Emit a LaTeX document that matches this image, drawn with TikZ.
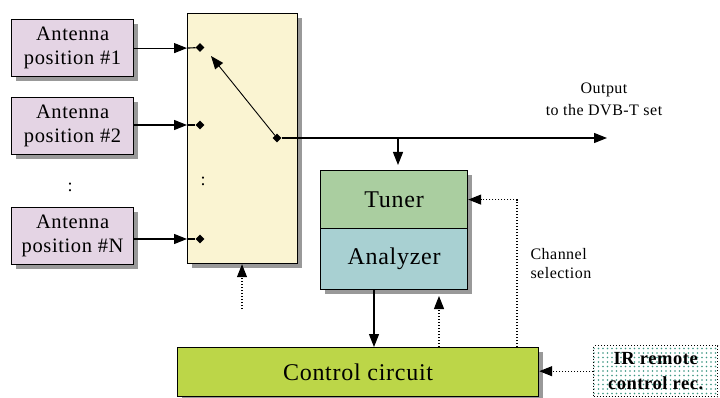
\documentclass[tikz,border=0pt]{standalone}
\usepackage{fontspec}
\setmainfont{Liberation Serif}[LetterSpace=3]
\usetikzlibrary{arrows.meta,shadows,patterns.meta,shapes.geometric}
\definecolor{antfill}{RGB}{228,212,228}
\definecolor{swfill}{RGB}{250,244,210}
\definecolor{tunfill}{RGB}{170,206,160}
\definecolor{anfill}{RGB}{168,208,210}
\definecolor{ctrlfill}{RGB}{188,214,72}
\definecolor{irdot}{RGB}{60,150,130}
\begin{document}
\begin{tikzpicture}[x=1pt,y=-1pt,
  tip/.style={-{Triangle[length=13pt,width=10pt]}},
  dots/.style={line width=1.1pt,dash pattern=on 1.2pt off 1.8pt},
  shad/.style={drop shadow={shadow xshift=4pt,shadow yshift=-4pt,fill=black!40,opacity=1}},
  box/.style={draw=black,line width=1.2pt,shad,inner sep=0pt,anchor=north west},
  ant/.style={box,fill=antfill,minimum width=122pt,minimum height=57pt,align=center,font=\fontsize{20.5}{24}\selectfont},
  pin/.style={diamond,fill=black,inner sep=0pt,minimum size=9pt},
  lbl/.style={font=\fontsize{24}{28}\selectfont},
  ln/.style={line width=1.1pt}
]
\useasboundingbox (0,0) rectangle (720,398);
% switch box
\node[box,fill=swfill,minimum width=110pt,minimum height=250pt] (sw) at (187,13) {};
% antenna boxes
\node[ant] (a1) at (11,19) {Antenna\\position \#1};
\node[ant] (a2) at (11,97) {Antenna\\position \#2};
\node[ant] (aN) at (11,207) {Antenna\\position \#N};
\node[font=\fontsize{18}{18}\selectfont] (vd1) at (70,187) {:};
\node[font=\fontsize{18}{18}\selectfont] (vd2) at (203,181) {:};
% switch contacts
\node[pin] (d1) at (200,47.5) {};
\node[pin] (d2) at (200,125) {};
\node[pin] (dN) at (200,239) {};
\node[pin] (piv) at (277,138) {};
\coordinate (arm) at (211,56);
\draw[tip,ln] (a1.east) -- (sw.west|-a1.east);
\draw[ln] (sw.west|-a1.east) -- (d1);
\draw[tip,ln] (a2.east|-d2) -- (sw.west|-d2);
\draw[ln] (sw.west|-d2) -- (d2);
\draw[tip,ln] (aN.east|-dN) -- (sw.west|-dN);
\draw[ln] (sw.west|-dN) -- (dN);
\draw[tip,line width=0.9pt] (piv) -- (arm);
% output
\coordinate (out) at (607,138);
\coordinate (tap) at (398,138);
\coordinate (tt) at (398,165);
\draw[tip,ln] (piv) -- (out);
\node[align=center,font=\fontsize{16}{22}\selectfont] (outtxt) at (604,99) {Output\\to the DVB-T set};
\draw[tip,ln] (tap) -- (tt);
% tuner / analyzer
\node[box,fill=tunfill,minimum width=147pt,minimum height=58pt,lbl] (tun) at (320,170) {Tuner};
\node[box,fill=anfill,minimum width=147pt,minimum height=61pt,lbl] (an) at (320,228) {Analyzer};
% control circuit
\node[box,fill=ctrlfill,minimum width=361pt,minimum height=49pt,lbl] (ctrl) at (177,347) {Control circuit};
% IR remote
\node[anchor=north west,draw=black,dots,line width=1.4pt,pattern={Dots[distance=4.5pt,radius=0.9pt]},pattern color=irdot,minimum width=124pt,minimum height=51pt,inner sep=0pt,align=center,font=\bfseries\fontsize{18.5}{25}\selectfont] (ir) at (593,345) {IR remote\\control rec.};
% connections
\coordinate (chx) at (517,200);
\draw[dots,tip] (ctrl.north-|chx) |- (tun.east);
\node[anchor=north west,align=left,font=\fontsize{16}{19}\selectfont] (chs) at (527,245) {Channel\\selection};
\coordinate (c1) at (374,0);
\draw[tip,ln] (an.south-|c1) -- (ctrl.north-|c1);
\coordinate (c2) at (439,296);
\draw[dots,tip] (ctrl.north-|c2) -- (c2);
\coordinate (sb) at (242,309);
\draw[dots,tip] (sb) -- (sw.south-|sb);
\draw[dots,tip] (ir.west) -- (ctrl.east|-ir.west);
\end{tikzpicture}
\end{document}
